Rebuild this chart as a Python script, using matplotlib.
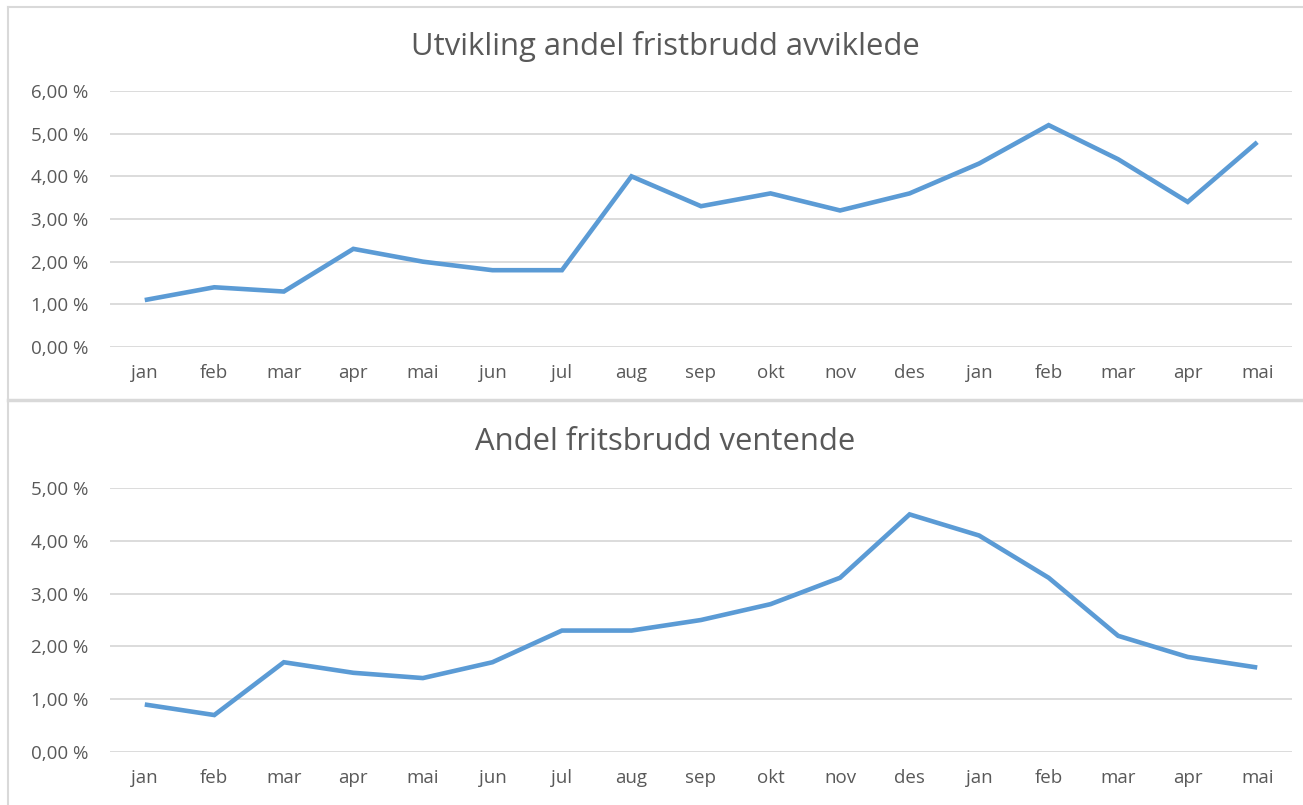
import matplotlib
matplotlib.use("Agg")
import matplotlib.pyplot as plt
from matplotlib.lines import Line2D
from matplotlib.ticker import FuncFormatter

months = ["jan", "feb", "mar", "apr", "mai", "jun", "jul", "aug", "sep",
          "okt", "nov", "des", "jan", "feb", "mar", "apr", "mai"]
avviklede = [1.1, 1.4, 1.3, 2.3, 2.0, 1.8, 1.8, 4.0, 3.3, 3.6, 3.2, 3.6,
             4.3, 5.2, 4.4, 3.4, 4.8]
ventende = [0.9, 0.7, 1.7, 1.5, 1.4, 1.7, 2.3, 2.3, 2.5, 2.8, 3.3, 4.5,
            4.1, 3.3, 2.2, 1.8, 1.6]
title_top = "Utvikling andel fristbrudd avviklede"
title_bottom = "Andel fritsbrudd ventende"

plt.rcParams['font.family'] = ['Open Sans', 'DejaVu Sans']

W, H = 1303, 805
fig = plt.figure(figsize=(W / 100, H / 100), dpi=100)
fig.patch.set_facecolor("white")

LINE = "#5B9BD5"
GRID = "#D9D9D9"
TXT = "#595959"
BORDER = "#D9D9D9"


def fx(px):
    return px / W


def fy(py):
    return 1 - py / H


def pct(v, pos):
    return f"{v:.2f}".replace(".", ",") + " %"


def setup(ax, data, ymax, step):
    x = list(range(len(months)))
    ax.plot(x, data, color=LINE, lw=3.3, solid_joinstyle="miter",
            solid_capstyle="butt", zorder=3)
    ax.set_xlim(-0.5, len(months) - 0.5)
    ax.set_ylim(0, ymax)
    ax.set_yticks([i * step for i in range(int(round(ymax / step)) + 1)])
    ax.yaxis.set_major_formatter(FuncFormatter(pct))
    ax.set_xticks(x)
    ax.set_xticklabels(months)
    ax.grid(axis="y", color=GRID, lw=1.3)
    ax.set_axisbelow(True)
    for s in ax.spines.values():
        s.set_visible(False)
    ax.tick_params(axis="both", length=0, labelsize=13.5, labelcolor=TXT)
    ax.tick_params(axis="y", pad=15.5)
    ax.tick_params(axis="x", pad=12)
    ax.set_facecolor("none")


left, right = 110, 1292
ax1 = fig.add_axes([fx(left), fy(347), fx(right - left), (347 - 91) / H])
setup(ax1, avviklede, 6, 1)
ax2 = fig.add_axes([fx(left), fy(752), fx(right - left), (752 - 488) / H])
setup(ax2, ventende, 5, 1)

fig.text(fx(665), fy(47), title_top, ha="center", va="center",
         fontsize=22.3, color=TXT)
fig.text(fx(665), fy(442), title_bottom, ha="center", va="center",
         fontsize=22.3, color=TXT)

# panel borders
fig.add_artist(Line2D([fx(8), 1], [fy(7), fy(7)], color=BORDER, lw=1.5))
fig.add_artist(Line2D([fx(8), fx(8)], [fy(7), 0], color=BORDER, lw=1.5))
fig.add_artist(Line2D([fx(8), 1], [fy(400), fy(400)], color=BORDER, lw=2.5))

fig.savefig("out.png", dpi=100, facecolor="white")
